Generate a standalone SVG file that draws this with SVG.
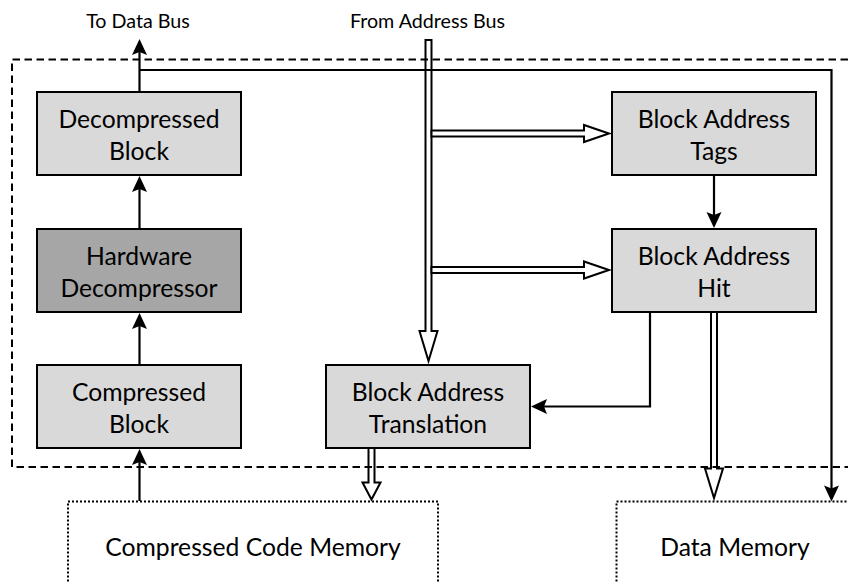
<svg xmlns="http://www.w3.org/2000/svg" width="848" height="582" viewBox="0 0 848 582">
  <style>
    .box { stroke: #000; stroke-width: 2; }
    .light { fill: #d9d9d9; }
    .dark { fill: #a6a6a6; }
    .mem { fill: none; stroke: #000; stroke-width: 2; stroke-dasharray: 2 2; }
    .bus { fill: #fff; stroke: #000; stroke-width: 2; stroke-linejoin: miter; stroke-miterlimit: 5; }
    .wire { fill: none; stroke: #000; stroke-width: 2.2; marker-end: url(#ah); }
    .frame { fill: none; stroke: #000; stroke-width: 2; stroke-dasharray: 7.5 4.5; }
    .t { font-family: Lato, "Liberation Sans", sans-serif; font-size: 24.7px; fill: #000; text-anchor: middle; }
    .lbl { font-family: Lato, "Liberation Sans", sans-serif; font-size: 19.7px; fill: #000; text-anchor: middle; }
  </style>
  <defs>
    <!-- notched solid arrowhead, tip sits 3px beyond the path end -->
    <marker id="ah" viewBox="-17 -8 19 16" refX="-3" refY="0" markerWidth="19" markerHeight="16" markerUnits="userSpaceOnUse" orient="auto" overflow="visible">
      <path d="M0,0 L-16,-7.5 L-13,0 L-16,7.5 Z" fill="#000"/>
    </marker>
  </defs>
  <rect width="848" height="582" fill="#fff"/>

  <!-- external memories -->
  <g id="compressed-code-memory">
    <rect class="mem" x="68" y="501.5" width="370" height="130"/>
    <text class="t" x="253" y="556">Compressed Code Memory</text>
  </g>
  <g id="data-memory">
    <rect class="mem" x="616.5" y="501.5" width="300" height="130"/>
    <text class="t" x="735" y="556">Data Memory</text>
  </g>

  <!-- bus labels -->
  <g id="labels">
    <text class="lbl" x="138" y="28">To Data Bus</text>
    <text class="lbl" x="427.5" y="28">From Address Bus</text>
  </g>

  <g id="connectors">
    <!-- wide (hollow) bus arrows -->
    <path class="bus" d="M425.5,40 H431.5 V331 H437.5 L428.5,361 L419.5,331 H425.5 Z"/>
    <path class="bus" d="M431.5,130.5 H584 V125 L609,133.5 L584,142 V136.5 H431.5 Z"/>
    <path class="bus" d="M431.5,267 H584 V261.5 L609,270 L584,278.5 V273 H431.5 Z"/>
    <path class="bus" d="M368.5,447 H374.5 V482.5 H380.5 L371.5,499.5 L362.5,482.5 H368.5 Z"/>
    <path class="bus" d="M711,311 H717 V468.5 H723 L714,498 L705,468.5 H711 Z"/>
    <!-- single-line signals -->
    <path class="wire" d="M139.5,92 V42"/>
    <path class="wire" d="M139.5,70 H831.5 V498.5"/>
    <path class="wire" d="M139.5,229 V179"/>
    <path class="wire" d="M139.5,365 V316"/>
    <path class="wire" d="M139.5,501 V452"/>
    <path class="wire" d="M714,175 V225"/>
    <path class="wire" d="M650,312 V406.5 H534"/>
  </g>

  <g id="decompressed-block">
    <rect class="box light" x="37" y="92" width="204" height="83"/>
    <text class="t" x="139" y="128">Decompressed</text>
    <text class="t" x="139" y="160">Block</text>
  </g>
  <g id="hardware-decompressor">
    <rect class="box dark" x="37" y="229" width="204" height="83"/>
    <text class="t" x="139" y="265">Hardware</text>
    <text class="t" x="139" y="297">Decompressor</text>
  </g>
  <g id="compressed-block">
    <rect class="box light" x="37" y="365" width="204" height="83"/>
    <text class="t" x="139" y="401">Compressed</text>
    <text class="t" x="139" y="433">Block</text>
  </g>
  <g id="block-address-translation">
    <rect class="box light" x="326" y="365" width="204" height="83"/>
    <text class="t" x="428" y="401">Block Address</text>
    <text class="t" x="428" y="433">Translation</text>
  </g>
  <g id="block-address-tags">
    <rect class="box light" x="612" y="92" width="204" height="83"/>
    <text class="t" x="714" y="128">Block Address</text>
    <text class="t" x="714" y="160">Tags</text>
  </g>
  <g id="block-address-hit">
    <rect class="box light" x="612" y="229" width="204" height="83"/>
    <text class="t" x="714" y="265">Block Address</text>
    <text class="t" x="714" y="297">Hit</text>
  </g>

  <!-- chip boundary -->
  <path class="frame" d="M860,59.5 H12 V467 H860"/>
</svg>
